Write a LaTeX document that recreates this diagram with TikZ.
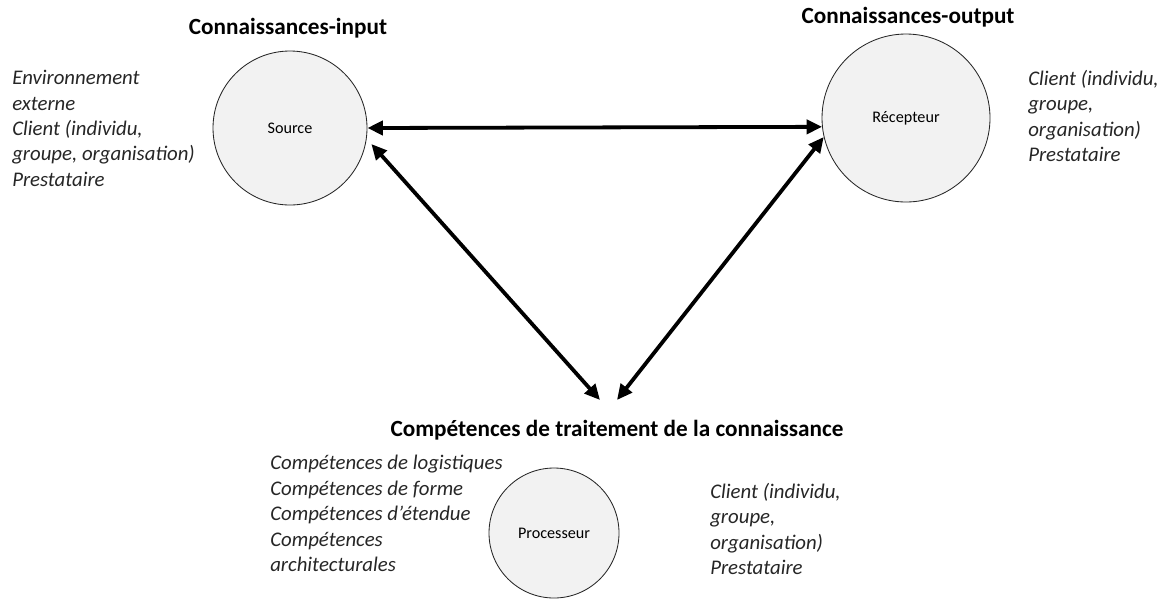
\documentclass[tikz,border=0pt]{standalone}
\usepackage{fontspec}
\setmainfont{Carlito}
\usetikzlibrary{arrows.meta}

\begin{document}
\begin{tikzpicture}[x=0.025cm, y=-0.025cm,
    pole/.style={circle, draw=black!85, line width=0.6pt, fill=black!5, inner sep=0pt, font=\fontsize{11.5}{13}\selectfont},
    heading/.style={font=\fontsize{16.5}{20}\selectfont\bfseries, inner sep=0pt},
    notes/.style={anchor=north west, align=left, inner sep=0pt, text=black!85, font=\fontsize{14.8}{18.1}\selectfont\itshape},
    link/.style={line width=2.7pt, >={Triangle[length=11pt,width=10pt]}, <->}]
  \useasboundingbox (0,0) rectangle (1161,601);
  \node[pole, minimum size=154*0.025cm] (src) at (290,128) {Source};
  \node[pole, minimum size=168*0.025cm] (rec) at (906,118) {Récepteur};
  \node[pole, minimum size=130*0.025cm] (proc) at (554,533) {Processeur};
  \node[heading] (srctitle) at (288,28) {Connaissances-input};
  \node[heading] (rectitle) at (908,17) {Connaissances-output};
  \node[heading] (proctitle) at (617,430) {Compétences de traitement de la connaissance};
  \node[notes] (srcnotes) at (12,70) {Environnement\\externe\\Client (individu,\\groupe, organisation)\\Prestataire};
  \node[notes] (recnotes) at (1028,70) {Client (individu,\\groupe,\\organisation)\\Prestataire};
  \node[notes] (procskills) at (270,455) {Compétences de logistiques\\Compétences de forme\\Compétences d’étendue\\Compétences\\architecturales};
  \node[notes] (procnotes) at (710,483) {Client (individu,\\groupe,\\organisation)\\Prestataire};
  \coordinate (pl) at (600,400);
  \coordinate (pr) at (617,400);
  \draw[link] (src.east) -- (rec.186);
  \draw[link, shorten <=5pt] (src.-8) -- (pl);
  \draw[link] (rec.193) -- (pr);
\end{tikzpicture}
\end{document}
